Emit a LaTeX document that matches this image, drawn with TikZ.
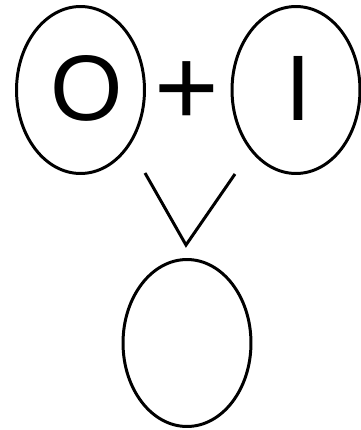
\documentclass[tikz,border=0pt]{standalone}
\usepackage{fontspec}
\usepackage{tikz}
\usepackage{xcolor}
\newfontfamily\glyphfont{Liberation Sans}
\definecolor{inkblack}{HTML}{000000}
\usetikzlibrary{positioning,shapes.geometric}
\tikzset{
  oval/.style={
    ellipse, draw=inkblack, line width=1.7pt, inner sep=0pt,
    minimum width=2.56cm, minimum height=3.34cm
  },
  glyph/.style={inner sep=0pt, text=inkblack, font=\glyphfont\fontsize{53}{60}\selectfont},
  bigglyph/.style={inner sep=0pt, text=inkblack, font=\glyphfont\fontsize{63}{70}\selectfont},
  vee/.style={draw=inkblack, line width=1.7pt, line join=miter}
}

\begin{document}
\begin{tikzpicture}[x=0.02cm,y=-0.02cm]
  \useasboundingbox (0,0) rectangle (361,430);

  \node[oval] (left) at (80.5,90) {};
  \node[oval] (right) at (296,90) {};
  \node[oval] (result) at (187,343) {};

  \node[glyph] (letterO) at (87,88) {O};
  \node[glyph] (letterI) at (298.5,88) {I};
  \node[bigglyph] (plus) at (187,94) {+};

  \coordinate (veeL) at (145,173);
  \coordinate (veeTip) at (186,245);
  \coordinate (veeR) at (235,174);
  \draw[vee] (veeL) -- (veeTip) -- (veeR);
\end{tikzpicture}
\end{document}
